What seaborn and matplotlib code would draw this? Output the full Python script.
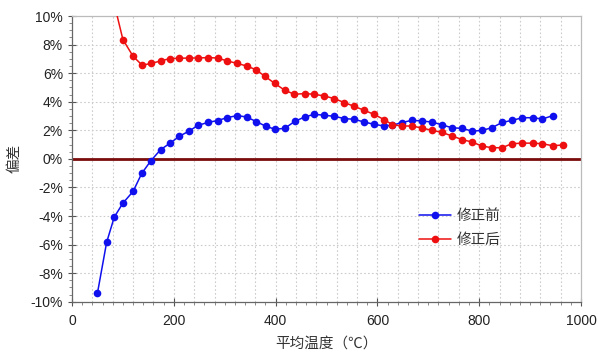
import pandas as pd
import numpy as np
import seaborn as sns
import matplotlib.pyplot as plt
from matplotlib.ticker import MultipleLocator, FuncFormatter

# values (deviation in %)
before_temp = [50, 68, 83, 100, 120, 137, 155, 174, 193, 211, 230, 248, 268, 286, 305, 325,
               343, 362, 381, 399, 418, 438, 457, 476, 496, 515, 535, 554, 574, 593, 613, 629,
               648, 668, 687, 707, 726, 746, 767, 786, 805, 825, 845, 864, 885, 905, 924, 944]
before_dev = [-9.40, -5.85, -4.08, -3.10, -2.28, -1.02, -0.13, 0.64, 1.11, 1.58, 1.95, 2.35,
              2.56, 2.68, 2.89, 3.03, 2.93, 2.61, 2.28, 2.07, 2.14, 2.63, 2.93, 3.12, 3.05,
              2.98, 2.82, 2.77, 2.58, 2.42, 2.30, 2.35, 2.54, 2.70, 2.65, 2.58, 2.39, 2.18,
              2.13, 1.94, 1.99, 2.18, 2.55, 2.69, 2.88, 2.88, 2.79, 3.02]

after_temp = [82, 100, 120, 138, 156, 174, 192, 211, 230, 248, 267, 286, 305, 324, 343, 361,
              379, 398, 418, 437, 457, 476, 496, 515, 535, 554, 574, 593, 613, 629, 648, 668,
              687, 707, 726, 746, 767, 786, 805, 825, 845, 864, 885, 905, 924, 944, 964]
after_dev = [11.0, 8.35, 7.18, 6.55, 6.69, 6.85, 7.02, 7.04, 7.06, 7.06, 7.09, 7.06, 6.85,
             6.69, 6.50, 6.25, 5.78, 5.29, 4.80, 4.52, 4.57, 4.52, 4.40, 4.22, 3.94, 3.68,
             3.40, 3.12, 2.75, 2.40, 2.30, 2.30, 2.16, 2.00, 1.86, 1.61, 1.34, 1.18, 0.90,
             0.78, 0.78, 1.06, 1.10, 1.10, 1.06, 0.92, 0.97]

series_names = ['修正前', '修正后']
x_ticks = [0, 200, 400, 600, 800, 1000]
y_ticks = [-10, -8, -6, -4, -2, 0, 2, 4, 6, 8, 10]

df = pd.concat([
    pd.DataFrame({'temp': before_temp, 'dev': before_dev, 'series': series_names[0]}),
    pd.DataFrame({'temp': after_temp, 'dev': after_dev, 'series': series_names[1]}),
])

sns.set_style('white')
plt.rcParams['font.family'] = ['Liberation Sans', 'Noto Sans CJK SC', 'DejaVu Sans']
plt.rcParams['axes.unicode_minus'] = False

fig = plt.figure(figsize=(5.98, 3.54), dpi=100)
ax = fig.add_axes([0.1204, 0.1477, 0.8512, 0.8071])

# dotted grid
for gx in np.arange(40, 1000, 40):
    ax.axvline(gx, color='#cccccc', lw=0.8, ls=(0, (1.5, 2)), zorder=0)
for gy in y_ticks[1:-1]:
    ax.axhline(gy, color='#cccccc', lw=0.8, ls=(0, (1.5, 2)), zorder=0)
ax.axhline(0, color='#7a0c0c', lw=2, zorder=1)

sns.lineplot(data=df, x='temp', y='dev', hue='series', palette=['#1010ee', '#ee1010'],
             marker='o', markersize=5.5, markeredgewidth=0, lw=1.1, sort=False, ax=ax, zorder=3)

ax.set_xlim(0, 1000)
ax.set_ylim(-10, 10)
ax.set_xticks(x_ticks)
ax.set_yticks(y_ticks)
ax.xaxis.set_minor_locator(MultipleLocator(20))
ax.yaxis.set_minor_locator(MultipleLocator(0.5))
ax.yaxis.set_major_formatter(FuncFormatter(lambda v, p: f'{v:.0f}%'))
ax.tick_params(axis='both', which='major', direction='inout', length=6, width=0.8,
               color='#555555', labelsize=10, labelcolor='#222222', left=True, bottom=True)
ax.tick_params(axis='both', which='minor', direction='out', length=2.5, width=0.6,
               color='#777777', left=True, bottom=True)
ax.tick_params(axis='x', pad=6)

for side in ['left', 'bottom']:
    ax.spines[side].set_color('#666666')
    ax.spines[side].set_linewidth(0.9)
for side in ['top', 'right']:
    ax.spines[side].set_color('#bbbbbb')
    ax.spines[side].set_linewidth(0.9)

ax.set_xlabel('平均温度（℃）', fontsize=10.5, color='#333333', labelpad=6)
ax.set_ylabel('偏差', fontsize=10.5, color='#333333')
ax.yaxis.set_label_coords(-0.1, 0.5)

ax.legend(title=None, frameon=False, loc='upper left', bbox_to_anchor=(0.655, 0.37),
          fontsize=10.5, handlelength=2.2, labelspacing=0.7, handletextpad=0.4)
for t in ax.get_legend().get_texts():
    t.set_color('#333333')

plt.savefig('out.png', dpi=100)
plt.close()
